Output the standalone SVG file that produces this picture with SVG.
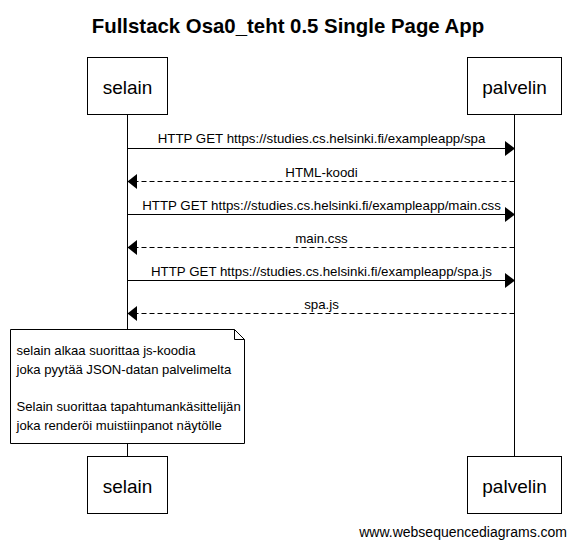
<svg xmlns="http://www.w3.org/2000/svg" width="576" height="547" viewBox="0 0 576 547">
<style>
text{font-family:"Liberation Sans",Arial,sans-serif;fill:#000}
.title{font-size:20.4px;font-weight:bold;text-anchor:middle}
.box{fill:#fff;stroke:#000;stroke-width:1}
.pt{font-size:19px;text-anchor:middle}
.life{stroke:#000;stroke-width:1}
.msg{stroke:#000;stroke-width:1;fill:none}
.dash{stroke-dasharray:5 3}
.head{fill:#000;stroke:none}
.lbl{font-size:13.3px;text-anchor:middle}
.note{font-size:13.1px}
.foot{font-size:14px;text-anchor:end}
</style>
<rect width="576" height="547" fill="#fff"/>
<text class="title" x="288" y="33">Fullstack Osa0_teht 0.5 Single Page App</text>
<g id="lifelines">
<line class="life" x1="127.5" y1="114.5" x2="127.5" y2="456.5"/>
<line class="life" x1="514.5" y1="114.5" x2="514.5" y2="456.5"/>
</g>
<g id="selain-top">
<rect class="box" x="87.5" y="57.5" width="80" height="57"/>
<text class="pt" x="127.5" y="94">selain</text>
</g>
<g id="palvelin-top">
<rect class="box" x="467.5" y="57.5" width="94" height="57"/>
<text class="pt" x="514.5" y="94">palvelin</text>
</g>
<g id="connectors">
<line class="msg" x1="127.5" y1="148.5" x2="506" y2="148.5"/>
<polygon class="head" points="515,148.5 505,141 505,156"/>
<text class="lbl" x="321.5" y="143">HTTP GET https://studies.cs.helsinki.fi/exampleapp/spa</text>
<line class="msg dash" x1="514.5" y1="181.5" x2="136" y2="181.5"/>
<polygon class="head" points="127.5,181.5 137,174 137,189"/>
<text class="lbl" x="321.5" y="176.5">HTML-koodi</text>
<line class="msg" x1="127.5" y1="214.5" x2="506" y2="214.5"/>
<polygon class="head" points="515,214.5 505,207 505,222"/>
<text class="lbl" x="321.5" y="209.5">HTTP GET https://studies.cs.helsinki.fi/exampleapp/main.css</text>
<line class="msg dash" x1="514.5" y1="247.5" x2="136" y2="247.5"/>
<polygon class="head" points="127.5,247.5 137,240 137,255"/>
<text class="lbl" x="321.5" y="242.5">main.css</text>
<line class="msg" x1="127.5" y1="280.5" x2="506" y2="280.5"/>
<polygon class="head" points="515,280.5 505,273 505,288"/>
<text class="lbl" x="321.5" y="275.5">HTTP GET https://studies.cs.helsinki.fi/exampleapp/spa.js</text>
<line class="msg dash" x1="514.5" y1="313.5" x2="136" y2="313.5"/>
<polygon class="head" points="127.5,313.5 137,306 137,321"/>
<text class="lbl" x="321.5" y="308.5">spa.js</text>
</g>
<g id="note">
<path class="box" d="M10.5,329.5 H234.5 L244.5,339.5 V443.5 H10.5 Z"/>
<path class="msg" d="M234.5,329.5 V339.5 H244.5"/>
<text class="note" x="16.5" y="355">selain alkaa suorittaa js-koodia</text>
<text class="note" x="16.5" y="373.5">joka pyytää JSON-datan palvelimelta</text>
<text class="note" x="16.5" y="411">Selain suorittaa tapahtumankäsittelijän</text>
<text class="note" x="16.5" y="429.5">joka renderöi muistiinpanot näytölle</text>
</g>
<g id="selain-bottom">
<rect class="box" x="87.5" y="456.5" width="80" height="57"/>
<text class="pt" x="127.5" y="493">selain</text>
</g>
<g id="palvelin-bottom">
<rect class="box" x="467.5" y="456.5" width="94" height="57"/>
<text class="pt" x="514.5" y="493">palvelin</text>
</g>
<text class="foot" x="567" y="537">www.websequencediagrams.com</text>
</svg>
